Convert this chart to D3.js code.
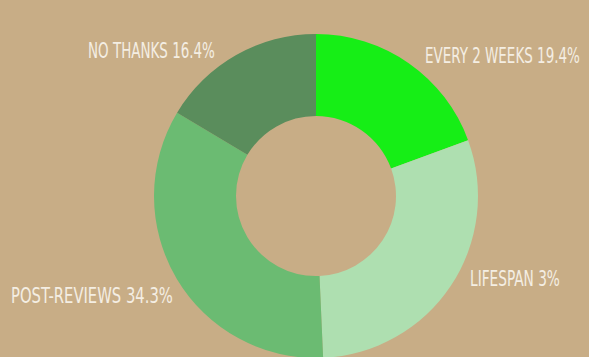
<!DOCTYPE html>
<html>
<head>
<meta charset="utf-8">
<script src="https://cdn.jsdelivr.net/npm/d3@7"></script>
<style>
  html, body { margin: 0; padding: 0; background: #c8ad86; }
  svg { display: block; }
  .lbl { font-family: "Liberation Sans Narrow", "DejaVu Sans Condensed", "Liberation Sans", sans-serif; fill: #f4eee3; font-size: 22px; }
</style>
</head>
<body>
<svg id="chart" width="589" height="357"></svg>
<script>
// Survey answers, clockwise from 12 o'clock
const categories = ["EVERY 2 WEEKS", "LIFESPAN", "POST-REVIEWS", "NO THANKS"];
const values = [19.4, 29.9, 34.3, 16.4];
const valueLabels = ["19.4%", "3%", "34.3%", "16.4%"];
const colors = ["#16ee16", "#aedfb0", "#6bbb72", "#5a8d5c"];

const svg = d3.select("#chart");
const cx = 316, cy = 196, outerR = 162, innerR = 80;

const pie = d3.pie().sort(null).value(d => d.value);
const arc = d3.arc().innerRadius(innerR).outerRadius(outerR);

const data = categories.map((c, i) => ({ name: c, value: values[i], label: valueLabels[i], color: colors[i] }));
const arcs = pie(data);

const g = svg.append("g").attr("transform", `translate(${cx},${cy})`);
g.selectAll("path").data(arcs).enter().append("path")
  .attr("d", arc)
  .attr("fill", d => d.data.color);

// Label placement per slice (left edge, baseline, target width)
const labelPos = [
  { x: 425, y: 63, w: 155 },
  { x: 470, y: 286, w: 90 },
  { x: 11, y: 303, w: 162 },
  { x: 88, y: 58, w: 127 }
];

// Condensed labels: squeeze each one horizontally to its target width
svg.selectAll("text.lbl").data(arcs).enter().append("text")
  .attr("class", "lbl")
  .text(d => `${d.data.name} ${d.data.label}`)
  .each(function (d, i) {
    const natural = this.getComputedTextLength();
    const p = labelPos[i];
    const sx = p.w / natural;
    d3.select(this).attr("transform", `translate(${p.x},${p.y}) scale(${sx},1)`);
  });
</script>
</body>
</html>
